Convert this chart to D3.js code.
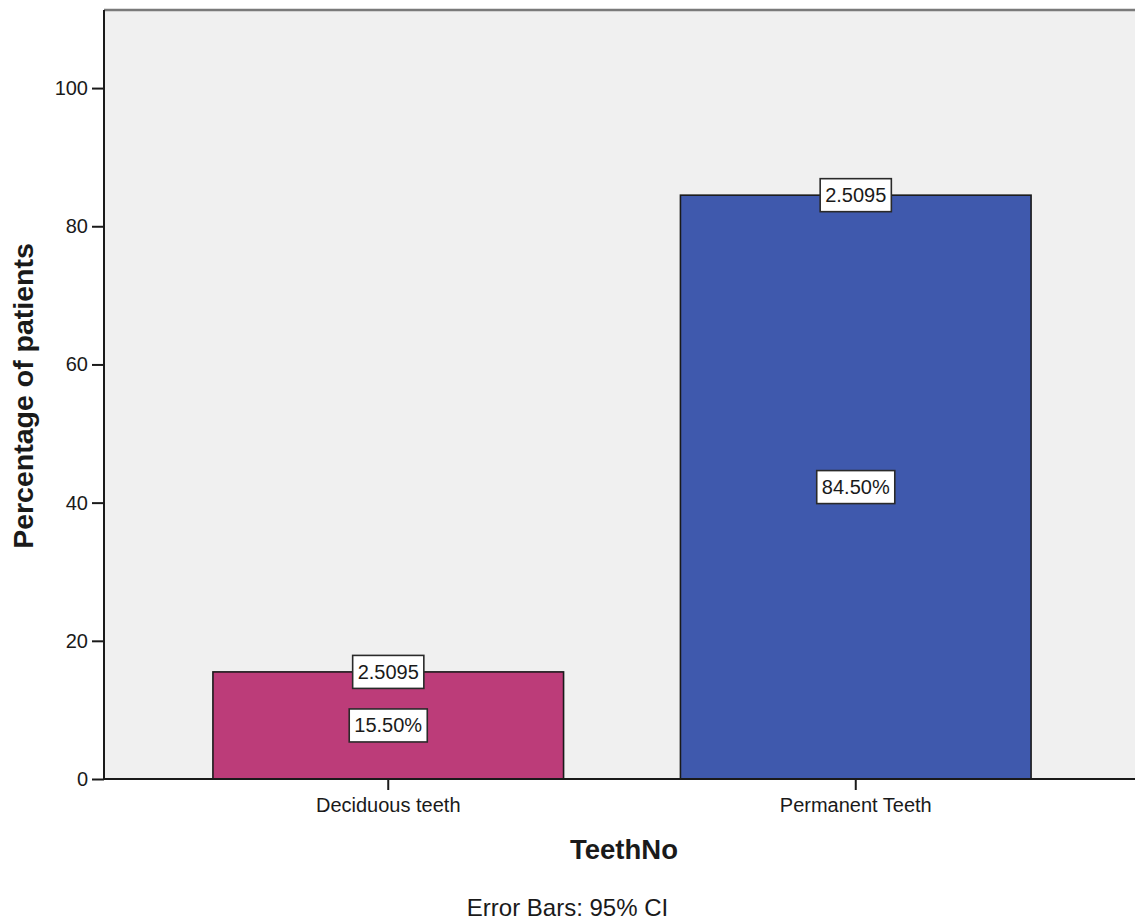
<!DOCTYPE html>
<html>
<head>
<meta charset="utf-8">
<script src="https://cdn.jsdelivr.net/npm/d3@7"></script>
<style>
  html, body { margin: 0; padding: 0; background: #ffffff; }
  svg { display: block; }
  text { font-family: "Liberation Sans", Arial, sans-serif; fill: #1a1a1a; }
</style>
</head>
<body>
<svg id="chart" width="1135" height="922"></svg>
<script>
// Data
const categories = ["Deciduous teeth", "Permanent Teeth"];
const percentages = [15.5, 84.5];
const errorLabels = ["2.5095", "2.5095"];
const yTicks = [0, 20, 40, 60, 80, 100];
const barColors = ["#bc3c79", "#3f59ad"];

const W = 1135, H = 922;
const plot = { left: 104, right: 1140, top: 10, bottom: 779 };

const svg = d3.select("#chart");

const x = d3.scaleBand()
  .domain(categories)
  .range([plot.left, plot.right])
  .paddingInner(0.25)
  .paddingOuter(0.233);

const y = d3.scaleLinear()
  .domain([0, 111.3])
  .range([plot.bottom, plot.top]);

// Plot background
svg.append("rect")
  .attr("x", plot.left)
  .attr("y", plot.top)
  .attr("width", plot.right - plot.left)
  .attr("height", plot.bottom - plot.top)
  .attr("fill", "#f0f0f0");

// Top frame line
svg.append("line")
  .attr("x1", plot.left).attr("x2", plot.right)
  .attr("y1", plot.top).attr("y2", plot.top)
  .attr("stroke", "#7a7a7a").attr("stroke-width", 2.5);

// Bars
svg.append("g").selectAll("rect")
  .data(categories)
  .join("rect")
  .attr("x", d => x(d))
  .attr("width", x.bandwidth())
  .attr("y", (d, i) => y(percentages[i]))
  .attr("height", (d, i) => y(0) - y(percentages[i]))
  .attr("fill", (d, i) => barColors[i])
  .attr("stroke", "#1a1a1a")
  .attr("stroke-width", 1.6);

// Y axis
const yAxis = svg.append("g")
  .attr("transform", `translate(${plot.left},0)`)
  .call(d3.axisLeft(y).tickValues(yTicks).tickSize(12).tickPadding(4).tickSizeOuter(0));
yAxis.select(".domain").attr("stroke", "#1a1a1a").attr("stroke-width", 2)
  .attr("d", `M0,${plot.top}V${plot.bottom}`);
yAxis.selectAll(".tick line").attr("stroke", "#1a1a1a").attr("stroke-width", 2);
yAxis.selectAll(".tick text")
  .attr("font-size", 20)
  .attr("fill", "#1a1a1a")
  .style("font-family", "'Liberation Sans', Arial, sans-serif");

// X axis
const xAxis = svg.append("g")
  .attr("transform", `translate(0,${plot.bottom})`)
  .call(d3.axisBottom(x).tickSize(11).tickPadding(8).tickSizeOuter(0));
xAxis.select(".domain").attr("stroke", "#1a1a1a").attr("stroke-width", 2)
  .attr("d", `M${plot.left},0H${plot.right}`);
xAxis.selectAll(".tick line").attr("stroke", "#1a1a1a").attr("stroke-width", 2);
xAxis.selectAll(".tick text")
  .attr("font-size", 20)
  .attr("fill", "#1a1a1a")
  .style("font-family", "'Liberation Sans', Arial, sans-serif");

// Boxed value labels
function boxedLabel(cx, cy, str) {
  const g = svg.append("g");
  const t = g.append("text")
    .attr("x", cx).attr("y", cy)
    .attr("text-anchor", "middle")
    .attr("dominant-baseline", "central")
    .attr("font-size", 20)
    .text(str);
  const bb = t.node().getBBox();
  g.insert("rect", "text")
    .attr("x", cx - bb.width / 2 - 5)
    .attr("y", cy - 16.5)
    .attr("width", bb.width + 10)
    .attr("height", 33)
    .attr("fill", "#ffffff")
    .attr("stroke", "#2a2a2a")
    .attr("stroke-width", 1.6);
}

categories.forEach((c, i) => {
  const cx = x(c) + x.bandwidth() / 2;
  boxedLabel(cx, y(percentages[i] / 2), d3.format(".2f")(percentages[i]) + "%");
  boxedLabel(cx, y(percentages[i]), errorLabels[i]);
});

// Axis titles
svg.append("text")
  .attr("transform", `translate(33,396) rotate(-90)`)
  .attr("text-anchor", "middle")
  .attr("font-size", 28.5)
  .attr("font-weight", "bold")
  .text("Percentage of patients");

svg.append("text")
  .attr("x", (plot.left + plot.right) / 2 + 2)
  .attr("y", 859)
  .attr("text-anchor", "middle")
  .attr("font-size", 27.5)
  .attr("font-weight", "bold")
  .text("TeethNo");

svg.append("text")
  .attr("x", W / 2)
  .attr("y", 916)
  .attr("text-anchor", "middle")
  .attr("font-size", 24)
  .text("Error Bars: 95% CI");
</script>
</body>
</html>
